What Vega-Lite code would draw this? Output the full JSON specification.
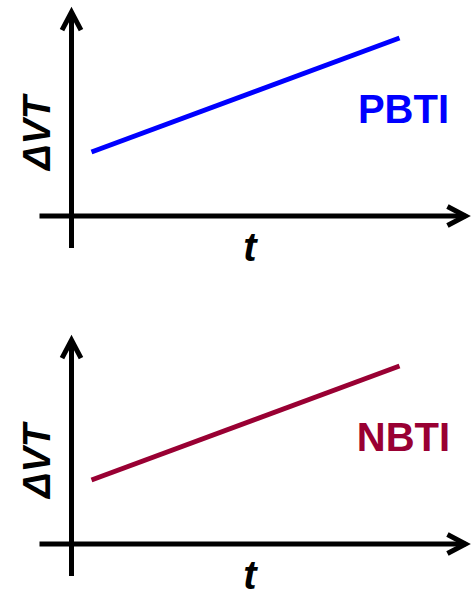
{
  "$schema": "https://vega.github.io/schema/vega-lite/v6.json",
  "padding": 0,
  "background": "white",
  "bounds": "flush",
  "data": {
    "values": [
      {"panel": "PBTI", "part": "trend", "t": 0.5, "dvt": 1.6},
      {"panel": "PBTI", "part": "trend", "t": 8.2, "dvt": 4.45},
      {"panel": "PBTI", "part": "axis", "axis": "t", "t": -0.8, "t2": 9.85, "dvt": 0, "dvt2": 0},
      {"panel": "PBTI", "part": "axis", "axis": "ΔVT", "t": 0, "t2": 0, "dvt": -0.8, "dvt2": 5.1},
      {"panel": "PBTI", "part": "name", "t": 8.3, "dvt": 2.325, "text": "PBTI"},
      {"panel": "PBTI", "part": "title", "axis": "ΔVT", "t": -0.54, "dvt": 2.075, "text": "ΔVT"},
      {"panel": "PBTI", "part": "title", "axis": "t", "t": 4.46, "dvt": -1.125, "text": "t"},
      {"panel": "NBTI", "part": "trend", "t": 0.5, "dvt": 1.6},
      {"panel": "NBTI", "part": "trend", "t": 8.2, "dvt": 4.45},
      {"panel": "NBTI", "part": "axis", "axis": "t", "t": -0.8, "t2": 9.85, "dvt": 0, "dvt2": 0},
      {"panel": "NBTI", "part": "axis", "axis": "ΔVT", "t": 0, "t2": 0, "dvt": -0.8, "dvt2": 5.1},
      {"panel": "NBTI", "part": "name", "t": 8.3, "dvt": 2.325, "text": "NBTI"},
      {"panel": "NBTI", "part": "title", "axis": "ΔVT", "t": -0.54, "dvt": 2.075, "text": "ΔVT"},
      {"panel": "NBTI", "part": "title", "axis": "t", "t": 4.46, "dvt": -1.125, "text": "t"}
    ]
  },
  "facet": {
    "row": {"field": "panel", "type": "nominal", "sort": ["PBTI", "NBTI"], "header": null}
  },
  "spacing": 64,
  "spec": {
    "width": 473,
    "height": 264,
    "layer": [
      {
        "transform": [{"filter": "datum.part === 'trend'"}],
        "mark": {"type": "line", "strokeWidth": 5, "strokeCap": "butt"},
        "encoding": {
          "x": {"field": "t", "type": "quantitative", "axis": null,
                "scale": {"domain": [-1.7875, 10.0375], "nice": false, "zero": false}},
          "y": {"field": "dvt", "type": "quantitative", "axis": null,
                "scale": {"domain": [-1.2, 5.4], "nice": false, "zero": false}},
          "color": {"field": "panel", "type": "nominal", "legend": null,
                    "scale": {"domain": ["PBTI", "NBTI"], "range": ["#0000ff", "#990033"]}}
        }
      },
      {
        "transform": [{"filter": "datum.part === 'axis'"}],
        "mark": {"type": "rule", "color": "#000000", "strokeWidth": 5, "strokeCap": "butt"},
        "encoding": {
          "x": {"field": "t", "type": "quantitative", "axis": null},
          "x2": {"field": "t2"},
          "y": {"field": "dvt", "type": "quantitative", "axis": null},
          "y2": {"field": "dvt2"}
        }
      },
      {
        "transform": [{"filter": "datum.part === 'axis' && datum.axis === 'ΔVT'"}],
        "mark": {"type": "point", "shape": "M-0.5,0.95L0,0L0.5,0.95", "size": 1444,
                 "filled": false, "fill": null, "stroke": "#000000", "strokeWidth": 5,
                 "strokeJoin": "miter", "strokeCap": "butt", "opacity": 1, "angle": 0},
        "encoding": {
          "x": {"field": "t2", "type": "quantitative", "axis": null},
          "y": {"field": "dvt2", "type": "quantitative", "axis": null}
        }
      },
      {
        "transform": [{"filter": "datum.part === 'axis' && datum.axis === 't'"}],
        "mark": {"type": "point", "shape": "M-0.5,0.95L0,0L0.5,0.95", "size": 1444,
                 "filled": false, "fill": null, "stroke": "#000000", "strokeWidth": 5,
                 "strokeJoin": "miter", "strokeCap": "butt", "opacity": 1, "angle": 90},
        "encoding": {
          "x": {"field": "t2", "type": "quantitative", "axis": null},
          "y": {"field": "dvt2", "type": "quantitative", "axis": null}
        }
      },
      {
        "transform": [{"filter": "datum.part === 'name'"}],
        "mark": {"type": "text", "font": "Liberation Sans", "fontSize": 40, "fontWeight": "bold",
                 "align": "center", "baseline": "alphabetic"},
        "encoding": {
          "x": {"field": "t", "type": "quantitative", "axis": null},
          "y": {"field": "dvt", "type": "quantitative", "axis": null},
          "text": {"field": "text"},
          "color": {"field": "panel", "type": "nominal", "legend": null}
        }
      },
      {
        "transform": [{"filter": "datum.part === 'title' && datum.axis === 'ΔVT'"}],
        "mark": {"type": "text", "font": "Liberation Sans", "fontSize": 38, "fontWeight": "bold",
                 "fontStyle": "italic", "align": "center", "baseline": "alphabetic",
                 "angle": 270, "color": "#000000"},
        "encoding": {
          "x": {"field": "t", "type": "quantitative", "axis": null},
          "y": {"field": "dvt", "type": "quantitative", "axis": null},
          "text": {"field": "text"}
        }
      },
      {
        "transform": [{"filter": "datum.part === 'title' && datum.axis === 't'"}],
        "mark": {"type": "text", "font": "Liberation Sans", "fontSize": 40, "fontWeight": "bold",
                 "fontStyle": "italic", "align": "center", "baseline": "alphabetic",
                 "color": "#000000", "clip": true},
        "encoding": {
          "x": {"field": "t", "type": "quantitative", "axis": null},
          "y": {"field": "dvt", "type": "quantitative", "axis": null},
          "text": {"field": "text"}
        }
      }
    ]
  },
  "config": {"view": {"stroke": null}}
}
